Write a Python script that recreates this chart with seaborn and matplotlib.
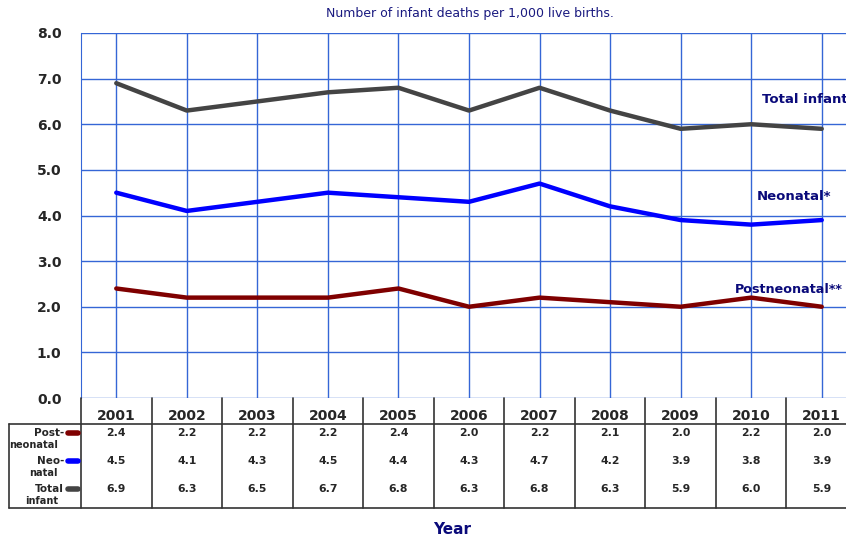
import matplotlib
matplotlib.use("Agg")
import matplotlib.pyplot as plt
import seaborn as sns
import pandas as pd
import numpy as np

years = ["2001", "2002", "2003", "2004", "2005", "2006", "2007", "2008", "2009", "2010", "2011"]
postneonatal = [2.4, 2.2, 2.2, 2.2, 2.4, 2.0, 2.2, 2.1, 2.0, 2.2, 2.0]
neonatal = [4.5, 4.1, 4.3, 4.5, 4.4, 4.3, 4.7, 4.2, 3.9, 3.8, 3.9]
total_infant = [6.9, 6.3, 6.5, 6.7, 6.8, 6.3, 6.8, 6.3, 5.9, 6.0, 5.9]
yticks = [0, 1, 2, 3, 4, 5, 6, 7, 8]

series_names = ["Postneonatal", "Neonatal", "Total infant"]
series_values = [postneonatal, neonatal, total_infant]
colors = {"Postneonatal": "#7f0000", "Neonatal": "#0000ff", "Total infant": "#444444"}
row_labels = [("Post-", "neonatal"), ("Neo-", "natal"), ("Total", "infant")]
end_labels = {"Total infant": ("Total infant", 6.4), "Neonatal": ("Neonatal*", 4.27),
              "Postneonatal": ("Postneonatal**", 2.24)}

rows = []
for name, vals in zip(series_names, series_values):
    for i, v in enumerate(vals):
        rows.append({"idx": i, "value": v, "series": name})
df = pd.DataFrame(rows)

sns.set_style("white")
plt.rcParams["font.family"] = ["DejaVu Sans"]

W, H = 846, 539
fig = plt.figure(figsize=(W / 100, H / 100), dpi=100)

def fx(px):
    return px / W

def fy(py):
    return 1 - py / H

left_px, right_px = 81, 857
ax = fig.add_axes([fx(left_px), fy(398), fx(right_px - left_px), fy(33) - fy(398)])
sns.lineplot(data=df, x="idx", y="value", hue="series", palette=colors,
             hue_order=["Total infant", "Neonatal", "Postneonatal"],
             linewidth=3.2, ax=ax, legend=False, solid_capstyle="round")
ax.set_xlim(-0.5, len(years) - 0.5)
ax.set_ylim(0, 8)
ax.set_xticks(range(len(years)))
ax.set_xticklabels([])
ax.set_yticks(yticks)
ax.set_yticklabels([f"{t:.1f}" for t in yticks], fontweight="bold", fontsize=10)
ax.tick_params(axis="both", length=0, pad=14)
ax.grid(True, color="#3566d6", linewidth=1.0)
ax.set_axisbelow(True)
for s in ["top", "right", "bottom"]:
    ax.spines[s].set_visible(False)
ax.spines["left"].set_color("#3566d6")
ax.set_xlabel("")
ax.set_ylabel("")

for name, (txt, yv) in end_labels.items():
    xpos = {"Total infant": 9.15, "Neonatal": 9.08, "Postneonatal": 8.77}[name]
    fs = 9.2 if name == "Postneonatal" else 9.5
    ax.text(xpos, yv, txt, color="#0a0a7a", fontweight="bold", fontsize=fs,
            ha="left", va="bottom", clip_on=False)

fig.text(fx(470), fy(14), "Number of infant deaths per 1,000 live births.",
         color="#1a1a80", fontsize=9, ha="center", va="center")
fig.text(fx(452), fy(530), "Year", color="#0a0a7a", fontsize=11,
         fontweight="bold", ha="center", va="center")

# table axes
tax = fig.add_axes([fx(left_px), fy(508), fx(right_px - left_px), fy(398) - fy(508)])
tax.set_xlim(-0.5, len(years) - 0.5)
tax.set_ylim(508, 398)
tax.axis("off")
x_left_border = -0.5 - (81 - 9) / ((right_px - left_px) / len(years))
for b in np.arange(-0.5, len(years), 1.0):
    tax.plot([b, b], [398, 508], color="#333333", lw=1.2, clip_on=False)
tax.plot([x_left_border, x_left_border], [424, 508], color="#333333", lw=1.2, clip_on=False)
for yy in [424, 508]:
    tax.plot([x_left_border, len(years) - 0.5], [yy, yy], color="#333333", lw=1.2, clip_on=False)

for i, yr in enumerate(years):
    tax.text(i, 416, yr, ha="center", va="center", fontsize=10, fontweight="bold")

row_y = [433, 461, 489]
for r, (name, vals) in enumerate(zip(series_names, series_values)):
    for i, v in enumerate(vals):
        tax.text(i, row_y[r], f"{v:.1f}", ha="center", va="center", fontsize=7.8, fontweight="bold")
    l1, l2 = row_labels[r]
    xm0 = -0.5 - 13 / 70.5
    xm1 = -0.5 - 3 / 70.5
    tax.plot([xm0, xm1], [row_y[r], row_y[r]], color=colors[name], lw=4,
             solid_capstyle="round", clip_on=False)
    tax.text(-0.5 - 17 / 70.5, row_y[r], l1, ha="right", va="center", fontsize=7.5,
             fontweight="bold", clip_on=False)
    tax.text(-0.5 - 23 / 70.5, row_y[r] + 12, l2, ha="right", va="center", fontsize=7.1,
             fontweight="bold", clip_on=False)

fig.savefig("out.png", dpi=100)
